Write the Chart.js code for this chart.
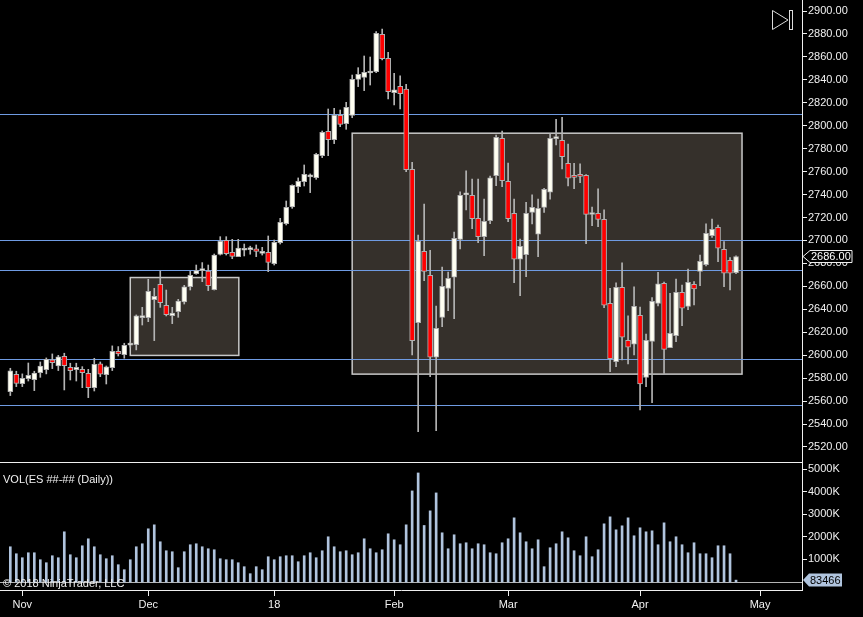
<!DOCTYPE html>
<html>
<head>
<meta charset="utf-8">
<script src="https://cdn.jsdelivr.net/npm/chart.js@4.4.0/dist/chart.umd.min.js"></script>
<style>
  html, body { margin: 0; padding: 0; background: #000; }
  #centralizar { width: 863px; height: 617px; }
  canvas { display: block; background: #000; }
</style>
</head>
<body>
<div id="centralizar"><canvas id="myChart" width="863" height="617"></canvas></div>
<script>
// daily ES bars, Nov 2017 - Apr 2018
const opens = [
  2568.3, 2583.4, 2575.2, 2579.6, 2578.7, 2584.8, 2587.4, 2595.9, 2590.6, 2599.1,
  2589.5, 2587.4, 2587.7, 2584.2, 2571.7, 2592.4, 2583.1, 2589.2, 2603.4, 2600.5,
  2608.8, 2609.2, 2632.7, 2632.7, 2648.4, 2661.8, 2643.5, 2634.5, 2638.0, 2646.4,
  2659.7, 2671.1, 2673.7, 2673.4, 2657.1, 2687.9, 2700.1, 2689.7, 2685.9, 2691.5,
  2692.0, 2692.6, 2688.8, 2689.7, 2679.8, 2698.1, 2714.7, 2729.2, 2746.9, 2751.3,
  2755.4, 2754.8, 2773.9, 2795.1, 2787.9, 2809.1, 2801.8, 2809.1, 2840.4, 2842.2,
  2846.0, 2847.1, 2879.7, 2858.8, 2828.8, 2834.3, 2832.0, 2762.0, 2628.4, 2690.6,
  2669.6, 2598.2, 2633.0, 2658.3, 2667.9, 2701.0, 2739.8, 2739.4, 2719.3, 2703.3,
  2717.3, 2756.5, 2789.0, 2751.5, 2723.7, 2683.6, 2687.6, 2724.5, 2705.4, 2728.9,
  2742.0, 2788.8, 2787.3, 2767.2, 2755.5, 2757.6, 2756.8, 2722.6, 2723.7, 2718.4,
  2645.2, 2594.4, 2659.2, 2613.0, 2609.5, 2634.8, 2580.7, 2612.1, 2645.2, 2662.7,
  2606.6, 2617.0, 2654.8, 2642.6, 2661.8, 2673.1, 2678.9, 2704.2, 2711.5, 2692.3,
  2682.7, 2672.0
];
const highs = [
  2588.6, 2586.0, 2583.7, 2593.2, 2586.0, 2594.1, 2597.6, 2601.1, 2599.9, 2601.7,
  2593.0, 2593.0, 2590.0, 2587.7, 2597.3, 2594.1, 2590.6, 2608.1, 2607.5, 2610.4,
  2611.0, 2635.1, 2641.7, 2666.1, 2658.3, 2673.4, 2656.8, 2641.7, 2648.7, 2660.9,
  2673.1, 2678.6, 2680.7, 2678.6, 2688.2, 2703.3, 2703.3, 2701.0, 2701.0, 2696.9,
  2695.0, 2696.1, 2694.0, 2703.9, 2700.4, 2719.3, 2734.4, 2748.5, 2754.5, 2765.8,
  2758.0, 2776.0, 2795.4, 2814.6, 2815.2, 2813.7, 2820.4, 2844.2, 2850.6, 2860.8,
  2859.9, 2882.0, 2884.3, 2864.0, 2845.7, 2843.4, 2836.1, 2768.1, 2704.8, 2731.8,
  2691.4, 2642.9, 2676.9, 2672.5, 2707.4, 2742.3, 2760.6, 2753.6, 2753.6, 2736.1,
  2756.2, 2791.9, 2795.4, 2767.5, 2736.1, 2701.3, 2733.3, 2739.7, 2736.1, 2745.5,
  2792.8, 2805.6, 2807.3, 2784.1, 2767.2, 2766.7, 2757.5, 2729.2, 2744.9, 2726.6,
  2658.3, 2663.0, 2680.4, 2634.2, 2659.5, 2642.0, 2618.5, 2650.2, 2672.2, 2663.8,
  2653.9, 2666.4, 2661.2, 2675.1, 2664.1, 2687.3, 2714.4, 2718.7, 2713.5, 2699.0,
  2685.0, 2686.5
];
const lows = [
  2564.8, 2572.6, 2572.6, 2577.5, 2569.1, 2580.7, 2583.7, 2588.3, 2586.6, 2569.7,
  2578.4, 2577.5, 2571.7, 2563.0, 2568.8, 2581.3, 2574.9, 2586.6, 2599.3, 2597.3,
  2607.0, 2604.6, 2626.3, 2629.2, 2612.7, 2641.7, 2634.2, 2627.5, 2633.0, 2644.6,
  2656.8, 2670.5, 2664.1, 2656.3, 2656.8, 2687.3, 2687.3, 2684.1, 2685.9, 2686.5,
  2688.0, 2685.9, 2687.3, 2672.8, 2678.6, 2696.9, 2713.5, 2728.0, 2741.7, 2747.5,
  2741.7, 2753.3, 2772.2, 2773.9, 2784.4, 2799.2, 2796.9, 2807.0, 2834.1, 2830.6,
  2835.5, 2846.3, 2857.3, 2823.3, 2818.1, 2814.6, 2760.0, 2600.2, 2533.4, 2665.0,
  2581.3, 2534.3, 2624.9, 2638.8, 2631.9, 2692.6, 2726.6, 2710.3, 2698.1, 2686.8,
  2714.7, 2747.8, 2746.9, 2716.4, 2663.3, 2651.9, 2668.5, 2714.4, 2685.9, 2724.5,
  2735.9, 2783.2, 2762.3, 2747.5, 2745.2, 2750.4, 2697.2, 2712.9, 2712.0, 2641.4,
  2585.7, 2590.0, 2595.8, 2592.4, 2600.2, 2552.3, 2572.6, 2558.6, 2642.9, 2584.2,
  2606.6, 2611.8, 2625.8, 2639.7, 2643.8, 2660.6, 2677.8, 2702.7, 2681.5, 2659.7,
  2656.8, 2671.0
];
const closes = [
  2586.3, 2575.5, 2579.9, 2582.5, 2584.5, 2590.6, 2596.4, 2593.5, 2598.5, 2590.9,
  2586.6, 2589.5, 2584.8, 2571.7, 2592.1, 2583.4, 2589.8, 2603.4, 2601.1, 2608.6,
  2609.8, 2634.2, 2633.3, 2655.7, 2651.3, 2645.8, 2635.3, 2636.8, 2647.2, 2659.5,
  2669.6, 2673.7, 2674.3, 2660.6, 2687.3, 2699.2, 2688.5, 2686.2, 2693.4, 2692.0,
  2692.4, 2690.5, 2690.5, 2680.9, 2698.4, 2715.8, 2728.9, 2748.1, 2751.6, 2757.6,
  2755.9, 2775.1, 2794.3, 2787.9, 2809.1, 2801.2, 2816.0, 2840.4, 2844.8, 2846.5,
  2846.6, 2880.5, 2858.5, 2829.7, 2831.2, 2828.0, 2761.7, 2612.7, 2699.3, 2673.1,
  2598.2, 2623.4, 2660.0, 2667.0, 2701.9, 2739.4, 2740.3, 2719.0, 2703.3, 2716.7,
  2754.5, 2789.9, 2752.1, 2719.0, 2683.6, 2694.9, 2723.7, 2728.9, 2728.0, 2744.6,
  2789.0, 2789.4, 2773.0, 2754.2, 2755.0, 2755.9, 2722.8, 2723.1, 2718.4, 2643.5,
  2597.0, 2659.2, 2615.6, 2606.9, 2642.6, 2574.9, 2613.0, 2647.0, 2662.1, 2605.1,
  2619.1, 2654.8, 2640.9, 2663.5, 2657.7, 2681.8, 2706.2, 2709.7, 2693.2, 2671.4,
  2671.4, 2686.0
];
// volume in thousands of contracts
const volumeK = [
  1559, 1250, 1074, 1294, 1294, 986, 853, 1162, 1074, 2221,
  1206, 1074, 1603, 1912, 1559, 1206, 1030, 1162, 765, 544,
  986, 1559, 1692, 2354, 2530, 1780, 1383, 1339, 633, 1339,
  1648, 1692, 1559, 1471, 1427, 1030, 986, 986, 853, 677,
  368, 677, 544, 1118, 986, 1118, 1162, 1162, 897, 1162,
  1294, 1074, 1383, 2001, 1559, 1339, 1383, 1206, 1294, 1912,
  1471, 1294, 1427, 2133, 1868, 1648, 2530, 4031, 4825, 2501,
  3148, 3942, 2177, 1471, 2089, 1692, 1736, 1471, 1692, 1648,
  1294, 1250, 1736, 1912, 2839, 2177, 1780, 1471, 1868, 677,
  1515, 1692, 2221, 1956, 1383, 1162, 2001, 1118, 1427, 2574,
  2883, 2309, 2486, 2839, 2045, 2398, 2221, 2265, 1648, 2618,
  1780, 2001, 1648, 1294, 1736, 1250, 1250, 1074, 1603, 1603,
  1250, 83.466
];

const monthIdx = [2, 23, 44, 64, 83, 105, 125];
const monthLabels = ["Nov", "Dec", "18", "Feb", "Mar", "Apr", "May"];
const priceTicks = [2520, 2540, 2560, 2580, 2600, 2620, 2640, 2660, 2680, 2700,
  2720, 2740, 2760, 2780, 2800, 2820, 2840, 2860, 2880, 2900];
const volTicks = [1000, 2000, 3000, 4000, 5000];

// drawn objects on the price panel
const levels = [2810.25, 2700, 2674, 2596.5, 2556.5];
const boxX1 = [20, 57];
const boxX2 = [38.1, 122];
const boxTop = [2667.7, 2793.5];
const boxBottom = [2599.8, 2583.5];

const last = closes.length - 1;
const bodies = opens.map((o, i) => ({ x: i, y: [o, closes[i]] }));
const wicks = lows.map((l, i) => ({ x: i, y: [l, highs[i]] }));
const vols = volumeK.map((v, i) => ({ x: i, y: v }));
const bodyColors = opens.map((o, i) => closes[i] >= o ? "#fffff2" : "#ff0000");

Chart.defaults.font.family = "Arial, 'Liberation Sans', sans-serif";
Chart.defaults.font.size = 11;
Chart.defaults.color = "#f0f0f0";

function noPad(scale) {
  scale.paddingTop = 0;
  scale.paddingBottom = 0;
  scale.paddingLeft = 0;
  scale.paddingRight = 0;
}

const desenhos = {
  id: "desenhos",
  beforeDatasetsDraw(chart) {
    const ctx = chart.ctx, a = chart.chartArea;
    const sx = chart.scales.x, sy = chart.scales.y, sv = chart.scales.yv;
    ctx.save();
    // boxes
    for (let b = 0; b < boxX1.length; b++) {
      const x1 = sx.getPixelForValue(boxX1[b]);
      const x2 = sx.getPixelForValue(boxX2[b]);
      const y1 = sy.getPixelForValue(boxTop[b]);
      const y2 = sy.getPixelForValue(boxBottom[b]);
      ctx.fillStyle = "#35302b";
      ctx.fillRect(x1, y1, x2 - x1, y2 - y1);
      ctx.strokeStyle = "#c8c8c8";
      ctx.lineWidth = 1.5;
      ctx.strokeRect(x1, y1, x2 - x1, y2 - y1);
    }
    // horizontal levels
    ctx.strokeStyle = "#6f9be2";
    ctx.lineWidth = 1;
    levels.forEach(v => {
      const py = Math.round(sy.getPixelForValue(v)) + 0.5;
      ctx.beginPath();
      ctx.moveTo(a.left, py);
      ctx.lineTo(a.right, py);
      ctx.stroke();
    });
    // volume zero line and pane separator
    const z = Math.round(sv.getPixelForValue(0)) + 0.5;
    ctx.strokeStyle = "#b4b4b4";
    ctx.beginPath(); ctx.moveTo(a.left, z); ctx.lineTo(a.right, z); ctx.stroke();
    const sep = Math.round(sv.top) + 0.5;
    ctx.strokeStyle = "#f0f0f0";
    ctx.beginPath(); ctx.moveTo(a.left, sep); ctx.lineTo(a.right, sep); ctx.stroke();
    ctx.restore();
  },
  afterDatasetsDraw(chart) {
    const ctx = chart.ctx, sv = chart.scales.yv;
    ctx.save();
    ctx.fillStyle = "#f0f0f0";
    ctx.font = "11px Arial, 'Liberation Sans', sans-serif";
    ctx.textBaseline = "middle";
    ctx.fillText("VOL(ES ##-## (Daily))", 3, sv.top + 17.5);
    ctx.fillText("\u00a9 2018 NinjaTrader, LLC", 3, 584);
    // play-to-end icon
    ctx.strokeStyle = "#dcdcdc";
    ctx.lineWidth = 1;
    ctx.beginPath();
    ctx.moveTo(772.5, 10.5); ctx.lineTo(772.5, 29.5); ctx.lineTo(788, 20); ctx.closePath();
    ctx.stroke();
    ctx.strokeRect(789.5, 10.5, 3, 19);
    ctx.restore();
  },
  afterDraw(chart) {
    const ctx = chart.ctx, a = chart.chartArea;
    const sy = chart.scales.y, sv = chart.scales.yv;
    ctx.save();
    ctx.font = "11px Arial, 'Liberation Sans', sans-serif";
    ctx.textBaseline = "middle";
    // last price marker
    const yp = sy.getPixelForValue(closes[last]);
    ctx.beginPath();
    ctx.moveTo(a.right + 1, yp);
    ctx.lineTo(a.right + 8, yp - 6);
    ctx.lineTo(a.right + 50, yp - 6);
    ctx.lineTo(a.right + 50, yp + 6);
    ctx.lineTo(a.right + 8, yp + 6);
    ctx.closePath();
    ctx.fillStyle = "#000";
    ctx.fill();
    ctx.strokeStyle = "#f0f0f0";
    ctx.lineWidth = 1;
    ctx.stroke();
    ctx.fillStyle = "#ffffff";
    ctx.fillText(closes[last].toFixed(2), a.right + 9, yp + 0.5);
    // last volume marker
    const yq = sv.getPixelForValue(volumeK[last]);
    ctx.beginPath();
    ctx.moveTo(a.right + 1, yq);
    ctx.lineTo(a.right + 7, yq - 6.5);
    ctx.lineTo(a.right + 40, yq - 6.5);
    ctx.lineTo(a.right + 40, yq + 6.5);
    ctx.lineTo(a.right + 7, yq + 6.5);
    ctx.closePath();
    ctx.fillStyle = "#b0c4de";
    ctx.fill();
    ctx.fillStyle = "#000";
    ctx.fillText(String(Math.round(volumeK[last] * 1000)), a.right + 8, yq + 0.5);
    ctx.restore();
  }
};

let ctx2 = document.getElementById("myChart").getContext("2d");
let myChart = new Chart(ctx2, {
  type: "bar",
  data: {
    datasets: [
      {
        label: "corpo",
        data: bodies,
        yAxisID: "y",
        backgroundColor: bodyColors,
        borderColor: "#b0b0b0",
        borderWidth: 1,
        borderSkipped: false,
        barThickness: 5,
        minBarLength: 2,
        grouped: false,
        order: 0,
      },
      {
        label: "pavio",
        data: wicks,
        yAxisID: "y",
        backgroundColor: "#b4b4b4",
        borderWidth: 0,
        barThickness: 1,
        grouped: false,
        order: 1,
      },
      {
        label: "VOL",
        data: vols,
        yAxisID: "yv",
        backgroundColor: "#b0c4de",
        borderWidth: 0,
        barThickness: 2,
        grouped: false,
        order: 2,
      },
    ],
  },
  plugins: [desenhos],
  options: {
    responsive: false,
    animation: false,
    layout: { padding: 0 },
    plugins: {
      legend: { display: false },
      tooltip: { enabled: false },
    },
    scales: {
      x: {
        type: "linear",
        offset: false,
        min: -1.72,
        max: 132,
        grid: { display: true, drawOnChartArea: false, offset: false, tickLength: 6, color: "#f0f0f0" },
        border: { display: true, color: "#f0f0f0" },
        ticks: {
          autoSkip: false,
          maxRotation: 0,
          padding: 2,
          color: "#f0f0f0",
          callback: (v, i) => monthLabels[i],
        },
        afterBuildTicks: (scale) => { scale.ticks = monthIdx.map(v => ({ value: v })); },
        afterFit: (scale) => { scale.height = 27; noPad(scale); },
      },
      y: {
        type: "linear",
        position: "right",
        stack: "paineis",
        stackWeight: 462,
        min: 2506.9,
        max: 2909.6,
        grid: { display: true, drawOnChartArea: false, tickLength: 5, color: "#f0f0f0" },
        border: { display: true, color: "#f0f0f0" },
        ticks: { autoSkip: false, padding: 1, color: "#f0f0f0", callback: (v) => Number(v).toFixed(2) },
        afterBuildTicks: (scale) => { scale.ticks = priceTicks.map(v => ({ value: v })); },
        afterFit: (scale) => { scale.width = 61; noPad(scale); },
      },
      yv: {
        type: "linear",
        position: "right",
        stack: "paineis",
        stackWeight: 128,
        min: -354,
        max: 5310,
        grid: { display: true, drawOnChartArea: false, tickLength: 5, color: "#f0f0f0" },
        border: { display: true, color: "#f0f0f0" },
        ticks: { autoSkip: false, padding: 1, color: "#f0f0f0", callback: (v) => v + "K" },
        afterBuildTicks: (scale) => { scale.ticks = volTicks.map(v => ({ value: v })); },
        afterFit: (scale) => { scale.width = 61; noPad(scale); },
      },
    },
  },
});
</script>
</body>
</html>
